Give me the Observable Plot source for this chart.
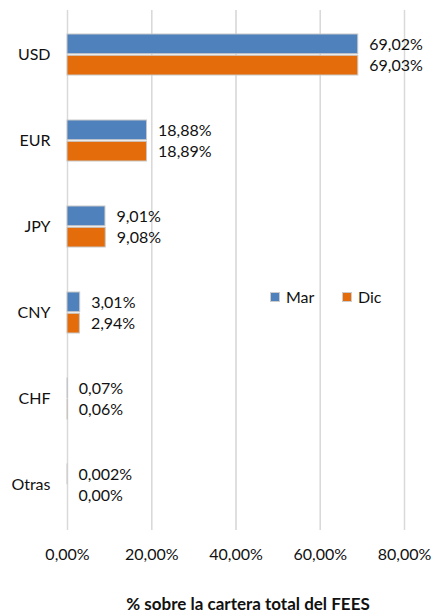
<!DOCTYPE html>
<html><head><meta charset="utf-8">
<script src="https://cdn.jsdelivr.net/npm/d3@7"></script>
<script src="https://cdn.jsdelivr.net/npm/@observablehq/plot@0.6"></script>
<style>
html,body{margin:0;padding:0;background:#fff;}
#wrap{position:relative;width:433px;height:613px;font-family:Lato,"Open Sans",sans-serif;}
#wrap svg text{fill:#111;}
.legend{position:absolute;top:287px;font-size:16px;color:#111;display:flex;align-items:center;}
.legend span.sw{display:inline-block;width:8px;height:8px;margin-right:6px;border:1px solid #ccc;}
.xtitle{position:absolute;top:593px;left:0;width:496px;text-align:center;font-weight:bold;font-size:17px;color:#111;white-space:nowrap;}
</style></head>
<body><div id="wrap"></div>
<script>
const categories = ["USD","EUR","JPY","CNY","CHF","Otras"];
const series = ["Mar","Dic"];
const marValues = [69.02, 18.88, 9.01, 3.01, 0.07, 0.002];
const dicValues = [69.03, 18.89, 9.08, 2.94, 0.06, 0.00];
const marLabels = ["69,02%","18,88%","9,01%","3,01%","0,07%","0,002%"];
const dicLabels = ["69,03%","18,89%","9,08%","2,94%","0,06%","0,00%"];
const xTicks = [0,20,40,60,80];
const xTickLabels = ["0,00%","20,00%","40,00%","60,00%","80,00%"];
const colors = ["#4f81bd","#e46c0a"];
const xTitle = "% sobre la cartera total del FEES";

const mar = categories.map((c,i)=>({cat:c, v:marValues[i], label:marLabels[i]}));
const dic = categories.map((c,i)=>({cat:c, v:dicValues[i], label:dicLabels[i]}));

const W=433, H=613, mT=10, mB=83, pIn=0.52;
const step=(H-mT-mB)/categories.length;
const half=step*(1-pIn)/2;

const chart = Plot.plot({
  width: W, height: H,
  marginLeft: 67, marginRight: 29, marginTop: mT, marginBottom: mB,
  style: {fontFamily: "Lato, 'Open Sans', sans-serif", fontSize: "16px", color: "#111"},
  x: {domain:[0,80], ticks: xTicks, tickFormat: (d)=>xTickLabels[xTicks.indexOf(d)], grid: true, label: null, tickSize: 0, tickPadding: 18},
  y: {domain: categories, paddingInner: pIn, paddingOuter: pIn/2, tickSize: 0, tickPadding: 17, label: null},
  marks: [
    Plot.gridX(xTicks, {stroke:"#d9d9d9", strokeOpacity:1, strokeWidth:1.5}),
    Plot.barX(mar, {x:"v", y:"cat", fill: colors[0], insetBottom: half+0.5, stroke:"#c8c8c8", strokeWidth:1}),
    Plot.barX(dic, {x:"v", y:"cat", fill: colors[1], insetTop: half+0.5, stroke:"#c8c8c8", strokeWidth:1}),
    Plot.text(mar, {x:"v", y:"cat", text:"label", textAnchor:"start", dx:11, dy:-half/2, fontSize:16}),
    Plot.text(dic, {x:"v", y:"cat", text:"label", textAnchor:"start", dx:11, dy:half/2, fontSize:16})
  ]
});
const wrap = document.getElementById("wrap");
wrap.appendChild(chart);
series.forEach((s,i)=>{
  const d=document.createElement("div");
  d.className="legend";
  d.style.left=(i===0?270:342)+"px";
  d.innerHTML=`<span class="sw" style="background:${colors[i]}"></span>${s}`;
  wrap.appendChild(d);
});
const t=document.createElement("div");
t.className="xtitle";
t.textContent=xTitle;
wrap.appendChild(t);
</script></body></html>
